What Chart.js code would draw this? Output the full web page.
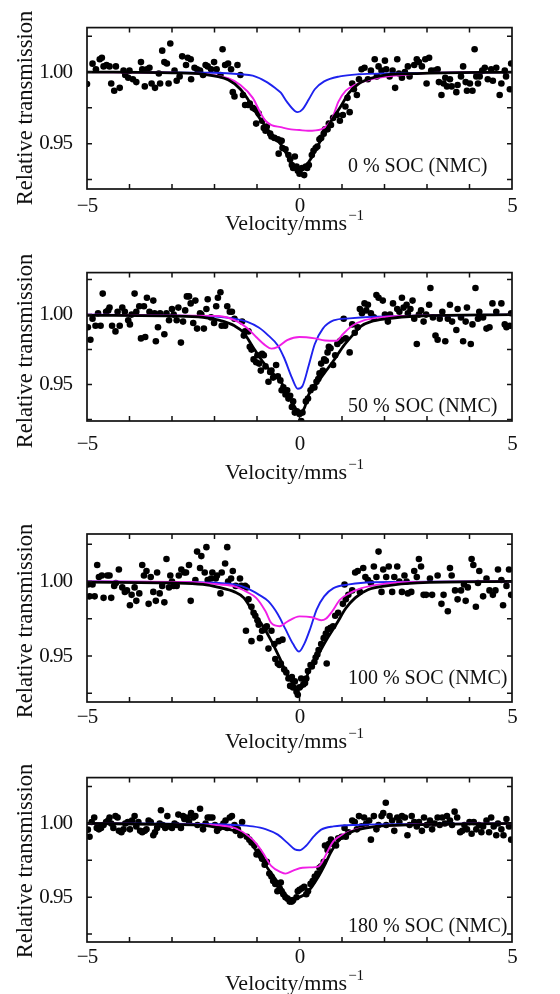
<!DOCTYPE html>
<html><head><meta charset="utf-8">
<script src="https://cdn.jsdelivr.net/npm/chart.js@4.4.1/dist/chart.umd.min.js"></script>
<style>
html,body{margin:0;padding:0;background:#fff;}
body{width:560px;height:994px;position:relative;overflow:hidden;}
canvas{position:absolute;left:0;}
</style></head><body>
<canvas id="c0"></canvas><canvas id="c1"></canvas><canvas id="c2"></canvas><canvas id="c3"></canvas>
<script>
// ---------- DATA ----------
const xTickValues = [-5, 0, 5];
const xTickLabels = ['\u22125', '0', '5'];
const yTickValues = [0.95, 1.00];
const yTickLabels = ['0.95', '1.00'];
const xTickMarks = [-4, -3, -2, -1, 0, 1, 2, 3, 4];
const yTickMarks = [0.925, 0.95, 0.975, 1.0, 1.025];
const panelLabels = ['0 % SOC (NMC)', '50 % SOC (NMC)', '100 % SOC (NMC)', '180 % SOC (NMC)'];
const xTitle = 'Velocity/mms';
const xTitleSup = '\u22121';
const yTitle = 'Relative transmission';

// measured points [velocity, transmission]
const points0 = [[-5.00,0.9917],[-4.87,1.0059],[-4.79,1.002],[-4.70,1.009],[-4.65,1.010],[-4.61,1.004],[-4.54,1.005],[-4.47,1.004],[-4.43,0.992],[-4.36,0.987],[-4.32,1.004],[-4.23,0.989],[-4.14,1.001],[-4.10,0.998],[-4.03,0.996],[-4.00,1.001],[-3.92,0.995],[-3.84,0.993],[-3.73,1.007],[-3.70,1.002],[-3.64,0.990],[-3.59,1.002],[-3.53,1.003],[-3.48,0.992],[-3.40,0.989],[-3.31,0.999],[-3.28,0.992],[-3.23,1.015],[-3.18,1.007],[-3.12,1.006],[-3.08,0.992],[-3.04,1.020],[-2.94,1.001],[-2.89,0.994],[-2.82,0.997],[-2.76,1.011],[-2.67,1.005],[-2.63,1.010],[-2.56,1.009],[-2.55,0.995],[-2.47,1.003],[-2.41,1.002],[-2.34,1.001],[-2.27,0.998],[-2.21,1.005],[-2.16,1.004],[-2.08,1.002],[-2.01,1.007],[-1.95,1.002],[-1.86,0.998],[-1.81,1.016],[-1.75,1.005],[-1.68,1.006],[-1.61,1.002],[-1.57,0.986],[-1.53,0.983],[-1.46,1.005],[-1.39,0.998],[-1.33,0.984],[-1.28,0.977],[-1.21,0.977],[-1.17,0.978],[-1.10,0.975],[-1.04,0.974],[-1.02,0.964],[-0.96,0.971],[-0.88,0.966],[-0.84,0.961],[-0.80,0.959],[-0.77,0.962],[-0.69,0.957],[-0.66,0.955],[-0.59,0.954],[-0.51,0.953],[-0.49,0.943],[-0.44,0.952],[-0.42,0.952],[-0.40,0.947],[-0.33,0.946],[-0.26,0.942],[-0.22,0.939],[-0.18,0.935],[-0.15,0.933],[-0.11,0.941],[-0.07,0.934],[-0.04,0.931],[0.00,0.929],[0.06,0.933],[0.11,0.928],[0.15,0.934],[0.18,0.933],[0.22,0.935],[0.29,0.942],[0.33,0.945],[0.38,0.947],[0.42,0.948],[0.47,0.953],[0.51,0.954],[0.57,0.957],[0.60,0.960],[0.66,0.960],[0.69,0.964],[0.74,0.963],[0.79,0.968],[0.88,0.970],[0.95,0.966],[1.02,0.970],[1.08,0.976],[1.13,0.982],[1.18,0.972],[1.24,0.992],[1.28,0.988],[1.35,0.984],[1.40,0.995],[1.46,1.002],[1.53,1.003],[1.61,0.995],[1.68,1.001],[1.77,1.009],[1.82,0.997],[1.86,1.004],[1.93,1.001],[2.01,1.008],[2.04,1.002],[2.12,0.997],[2.19,1.001],[2.25,0.989],[2.30,1.009],[2.34,0.999],[2.41,0.996],[2.48,1.000],[2.55,1.004],[2.59,0.997],[2.70,1.005],[2.76,1.009],[2.81,1.007],[2.88,1.004],[2.96,1.009],[2.99,0.992],[3.05,1.010],[3.10,1.001],[3.18,1.001],[3.25,1.002],[3.28,0.993],[3.34,0.984],[3.39,0.992],[3.43,0.996],[3.47,0.990],[3.54,0.995],[3.58,0.990],[3.69,0.986],[3.72,0.991],[3.80,0.997],[3.85,1.004],[3.91,0.993],[3.94,0.987],[4.01,0.992],[4.07,0.987],[4.12,1.016],[4.16,0.997],[4.20,0.992],[4.24,0.997],[4.30,1.001],[4.36,1.003],[4.43,0.995],[4.51,1.002],[4.55,0.994],[4.63,1.003],[4.71,0.984],[4.75,0.992],[4.83,1.001],[4.86,0.997],[4.95,0.988],[4.98,1.006]];

const points1 = [[-4.98,0.991],[-4.92,0.982],[-4.87,0.997],[-4.80,0.992],[-4.74,1.001],[-4.68,0.992],[-4.63,1.015],[-4.55,1.002],[-4.50,1.003],[-4.47,1.005],[-4.41,0.992],[-4.33,0.988],[-4.28,1.002],[-4.23,0.992],[-4.17,1.005],[-4.11,1.002],[-4.03,0.996],[-3.99,0.993],[-3.95,1.000],[-3.88,1.015],[-3.84,1.002],[-3.77,1.006],[-3.73,0.983],[-3.66,1.006],[-3.63,0.984],[-3.59,1.012],[-3.53,1.002],[-3.44,1.010],[-3.41,1.001],[-3.38,0.981],[-3.33,0.991],[-3.28,1.001],[-3.18,0.986],[-3.13,1.001],[-3.07,0.996],[-3.00,1.004],[-2.96,1.000],[-2.89,0.996],[-2.85,1.005],[-2.79,0.980],[-2.74,0.995],[-2.69,1.003],[-2.65,1.013],[-2.60,1.013],[-2.56,1.008],[-2.50,0.994],[-2.45,1.010],[-2.41,0.990],[-2.34,1.001],[-2.31,1.000],[-2.25,0.990],[-2.19,1.004],[-2.16,1.011],[-2.08,0.998],[-2.01,0.994],[-1.96,1.006],[-1.92,1.012],[-1.86,1.016],[-1.83,0.992],[-1.75,0.992],[-1.70,1.006],[-1.64,1.002],[-1.59,1.002],[-1.53,0.997],[-1.35,0.995],[-1.31,0.985],[-1.28,0.988],[-1.20,0.988],[-1.17,0.977],[-1.13,0.975],[-1.08,0.968],[-1.02,0.966],[-0.99,0.971],[-0.95,0.965],[-0.91,0.960],[-0.88,0.972],[-0.84,0.971],[-0.80,0.963],[-0.73,0.952],[-0.69,0.959],[-0.66,0.960],[-0.62,0.955],[-0.55,0.964],[-0.51,0.956],[-0.45,0.953],[-0.42,0.946],[-0.38,0.948],[-0.33,0.943],[-0.29,0.946],[-0.26,0.940],[-0.22,0.942],[-0.18,0.934],[-0.15,0.938],[-0.11,0.930],[-0.06,0.931],[0.00,0.929],[0.04,0.924],[0.07,0.930],[0.15,0.938],[0.20,0.940],[0.26,0.946],[0.31,0.948],[0.35,0.948],[0.40,0.952],[0.44,0.954],[0.47,0.958],[0.51,0.965],[0.55,0.960],[0.58,0.968],[0.62,0.967],[0.66,0.973],[0.69,0.977],[0.73,0.976],[0.79,0.964],[0.84,0.971],[0.89,0.979],[0.95,0.981],[0.99,0.982],[1.04,0.997],[1.09,0.983],[1.18,0.973],[1.24,0.993],[1.30,0.987],[1.37,0.991],[1.42,1.004],[1.47,1.001],[1.53,1.008],[1.57,1.003],[1.61,1.007],[1.68,1.001],[1.75,0.998],[1.81,1.014],[1.86,1.012],[1.96,1.010],[2.01,1.000],[2.08,0.995],[2.13,1.000],[2.20,1.008],[2.30,1.004],[2.35,1.002],[2.41,1.012],[2.45,1.005],[2.52,1.007],[2.55,1.001],[2.61,1.004],[2.66,1.010],[2.70,0.997],[2.76,0.979],[2.81,1.000],[2.86,1.003],[2.92,0.995],[2.98,1.000],[3.05,1.007],[3.08,1.019],[3.14,0.998],[3.20,0.985],[3.25,0.982],[3.30,0.997],[3.36,1.002],[3.43,0.981],[3.49,0.997],[3.54,1.007],[3.59,0.995],[3.69,0.989],[3.72,1.004],[3.80,0.998],[3.85,0.981],[3.91,0.995],[3.94,1.005],[4.03,0.979],[4.07,0.993],[4.14,1.019],[4.20,0.997],[4.23,1.002],[4.32,0.998],[4.40,0.990],[4.47,0.991],[4.54,1.008],[4.63,1.002],[4.75,1.008],[4.83,0.993],[4.87,0.991],[4.95,0.992],[4.98,1.001]];

const points2 = [[-4.98,0.998],[-4.94,0.990],[-4.87,0.998],[-4.82,0.990],[-4.76,1.011],[-4.72,1.003],[-4.65,1.004],[-4.61,0.989],[-4.52,1.004],[-4.47,1.004],[-4.43,0.989],[-4.36,0.997],[-4.32,0.999],[-4.25,1.008],[-4.17,0.996],[-4.11,0.993],[-4.06,0.994],[-3.99,0.984],[-3.95,0.991],[-3.88,0.996],[-3.84,0.987],[-3.77,0.992],[-3.70,1.011],[-3.66,1.004],[-3.60,1.007],[-3.55,0.985],[-3.50,1.003],[-3.44,0.993],[-3.38,0.987],[-3.35,1.006],[-3.29,0.992],[-3.23,0.997],[-3.18,0.986],[-3.13,1.015],[-3.07,0.996],[-3.04,1.004],[-3.00,1.000],[-2.96,0.997],[-2.89,0.997],[-2.84,1.004],[-2.78,1.008],[-2.71,1.006],[-2.67,1.006],[-2.60,1.011],[-2.56,0.987],[-2.45,1.001],[-2.41,1.020],[-2.34,1.009],[-2.31,1.017],[-2.23,1.006],[-2.19,1.023],[-2.16,1.001],[-2.08,1.002],[-2.05,1.006],[-1.97,1.002],[-1.94,1.004],[-1.86,0.992],[-1.83,1.006],[-1.75,1.012],[-1.70,1.023],[-1.68,1.000],[-1.61,1.002],[-1.57,1.007],[-1.50,0.997],[-1.40,1.002],[-1.37,0.997],[-1.28,0.997],[-1.26,0.967],[-1.24,0.996],[-1.20,0.988],[-1.13,0.983],[-1.13,0.960],[-1.08,0.979],[-1.04,0.977],[-0.99,0.974],[-0.96,0.971],[-0.93,0.962],[-0.88,0.967],[-0.82,0.968],[-0.77,0.970],[-0.73,0.955],[-0.66,0.967],[-0.59,0.958],[-0.57,0.948],[-0.51,0.945],[-0.49,0.960],[-0.47,0.944],[-0.44,0.945],[-0.40,0.961],[-0.36,0.941],[-0.31,0.939],[-0.26,0.935],[-0.22,0.930],[-0.18,0.936],[-0.15,0.929],[-0.11,0.933],[-0.07,0.926],[-0.04,0.924],[0.00,0.929],[0.04,0.935],[0.09,0.931],[0.13,0.932],[0.16,0.935],[0.20,0.940],[0.26,0.944],[0.29,0.943],[0.35,0.946],[0.38,0.949],[0.42,0.951],[0.45,0.954],[0.51,0.958],[0.57,0.962],[0.62,0.965],[0.64,0.945],[0.67,0.968],[0.73,0.969],[0.79,0.970],[0.84,0.977],[0.91,0.979],[1.02,0.985],[1.06,0.998],[1.09,0.988],[1.15,0.991],[1.24,0.994],[1.31,1.006],[1.37,1.007],[1.42,0.993],[1.50,1.009],[1.55,1.003],[1.61,1.001],[1.68,0.999],[1.75,1.010],[1.81,1.003],[1.86,1.020],[1.93,0.993],[1.97,1.008],[2.04,1.003],[2.10,1.010],[2.18,0.993],[2.23,1.003],[2.30,1.010],[2.35,1.000],[2.41,0.993],[2.47,1.004],[2.52,1.000],[2.55,0.992],[2.63,0.993],[2.70,1.007],[2.76,1.003],[2.81,1.015],[2.86,1.010],[2.92,0.991],[2.98,0.991],[3.07,1.002],[3.12,0.991],[3.25,1.004],[3.34,0.985],[3.39,0.991],[3.49,0.980],[3.54,1.009],[3.58,1.004],[3.66,0.994],[3.72,0.988],[3.80,0.994],[3.87,0.998],[3.91,0.987],[3.96,0.996],[4.05,1.015],[4.09,1.011],[4.15,0.983],[4.20,0.999],[4.23,1.007],[4.32,0.990],[4.40,1.002],[4.47,0.994],[4.55,0.991],[4.61,0.994],[4.67,1.008],[4.75,1.001],[4.79,0.984],[4.87,0.997],[4.93,1.008],[4.98,0.991]];

const points3 = [[-4.98,0.9958],[-4.94,0.991],[-4.89,1.001],[-4.83,1.004],[-4.77,0.997],[-4.72,0.996],[-4.67,0.997],[-4.61,0.999],[-4.55,1.001],[-4.50,1.002],[-4.47,1.004],[-4.43,1.000],[-4.38,0.997],[-4.33,1.005],[-4.28,1.004],[-4.25,0.995],[-4.19,0.994],[-4.14,0.996],[-4.10,1.000],[-4.04,1.001],[-3.99,0.996],[-3.94,1.002],[-3.88,1.005],[-3.84,0.998],[-3.79,1.001],[-3.75,0.995],[-3.70,0.994],[-3.64,0.995],[-3.60,0.996],[-3.55,1.002],[-3.50,1.001],[-3.44,0.992],[-3.40,0.994],[-3.35,0.997],[-3.29,1.000],[-3.26,1.009],[-3.22,0.999],[-3.16,0.997],[-3.11,1.005],[-3.06,0.998],[-3.00,0.997],[-2.94,1.000],[-2.89,0.999],[-2.85,1.006],[-2.79,0.997],[-2.74,1.005],[-2.71,1.003],[-2.65,1.004],[-2.60,1.001],[-2.55,1.007],[-2.50,1.004],[-2.45,1.005],[-2.40,0.999],[-2.34,1.010],[-2.27,0.996],[-2.21,1.000],[-2.16,1.004],[-2.11,1.004],[-2.05,1.004],[-1.99,0.999],[-1.94,0.995],[-1.89,0.997],[-1.84,0.998],[-1.79,1.000],[-1.74,1.002],[-1.70,0.997],[-1.64,1.004],[-1.59,1.005],[-1.53,0.999],[-1.50,0.995],[-1.45,0.996],[-1.39,0.992],[-1.35,1.001],[-1.24,0.991],[-1.18,0.989],[-1.13,0.987],[-1.06,0.985],[-1.01,0.979],[-0.96,0.981],[-0.91,0.978],[-0.88,0.976],[-0.82,0.972],[-0.77,0.974],[-0.71,0.966],[-0.66,0.964],[-0.62,0.961],[-0.57,0.959],[-0.52,0.954],[-0.47,0.956],[-0.44,0.960],[-0.42,0.954],[-0.38,0.952],[-0.33,0.950],[-0.28,0.949],[-0.23,0.947],[-0.18,0.947],[-0.15,0.948],[-0.07,0.950],[-0.04,0.954],[0.00,0.955],[0.06,0.956],[0.11,0.957],[0.16,0.952],[0.20,0.954],[0.26,0.959],[0.31,0.961],[0.36,0.964],[0.42,0.966],[0.47,0.970],[0.51,0.971],[0.57,0.974],[0.60,0.985],[0.66,0.982],[0.69,0.986],[0.74,0.989],[0.80,0.986],[0.86,0.985],[0.91,0.990],[0.99,0.991],[1.06,0.997],[1.09,0.991],[1.15,0.994],[1.24,1.002],[1.30,1.001],[1.35,0.996],[1.40,1.005],[1.46,0.998],[1.52,1.004],[1.57,1.000],[1.64,1.002],[1.68,0.989],[1.75,1.005],[1.81,0.996],[1.86,0.999],[1.93,1.005],[1.97,1.007],[2.03,1.014],[2.04,0.999],[2.12,1.005],[2.18,1.002],[2.23,0.995],[2.30,1.004],[2.35,1.001],[2.41,1.005],[2.48,1.004],[2.54,0.992],[2.59,0.999],[2.64,1.005],[2.70,1.001],[2.76,0.998],[2.81,1.001],[2.88,0.995],[2.93,1.004],[2.99,0.999],[3.07,1.002],[3.12,0.996],[3.18,1.000],[3.25,1.004],[3.30,0.999],[3.36,1.004],[3.42,1.000],[3.47,1.005],[3.54,1.002],[3.59,0.999],[3.65,1.008],[3.71,1.004],[3.78,0.994],[3.83,0.995],[3.88,0.999],[3.94,0.996],[4.00,1.001],[4.05,0.993],[4.10,1.001],[4.16,0.996],[4.22,0.999],[4.28,0.994],[4.32,0.998],[4.40,1.002],[4.46,0.994],[4.51,1.004],[4.57,0.998],[4.63,0.992],[4.67,1.000],[4.75,0.996],[4.80,0.992],[4.87,1.003],[4.93,0.998],[4.98,0.989]];

// fitted curves [velocity, transmission]
const total0 = [[-5,1.000],[-3,0.9995],[-2.27,0.9985],[-1.68,0.9946],[-1.39,0.988],[-1.17,0.979],[-0.99,0.970],[-0.80,0.962],[-0.58,0.954],[-0.44,0.9495],[-0.29,0.942],[-0.15,0.934],[-0.07,0.931],[0,0.930],[0.11,0.933],[0.29,0.9405],[0.51,0.953],[0.73,0.965],[0.95,0.975],[1.17,0.9856],[1.39,0.9917],[1.68,0.9957],[2.04,0.998],[2.77,0.999],[5,1.000]];
const magenta0 = [[-5,1.000],[-3,0.9995],[-2.41,0.999],[-1.68,0.9957],[-1.39,0.991],[-1.10,0.982],[-0.91,0.971],[-0.80,0.966],[-0.66,0.963],[-0.44,0.9615],[-0.2,0.960],[0,0.9595],[0.2,0.959],[0.51,0.960],[0.69,0.964],[0.80,0.970],[0.91,0.979],[1.09,0.987],[1.31,0.991],[1.68,0.995],[2.41,0.998],[3,0.9993],[5,1.000]];
const blue0 = [[-5,1.000],[-2,0.9995],[-1.39,0.9985],[-1.10,0.9975],[-0.80,0.9935],[-0.58,0.989],[-0.44,0.9856],[-0.29,0.979],[-0.11,0.9728],[-0.04,0.972],[0.07,0.974],[0.22,0.981],[0.36,0.988],[0.58,0.9935],[0.95,0.997],[1.39,0.9985],[2.04,0.999],[5,1.000]];

const total1 = [[-5,0.9995],[-3,0.999],[-2.27,0.998],[-1.90,0.996],[-1.53,0.992],[-1.31,0.987],[-1.10,0.977],[-0.88,0.967],[-0.66,0.959],[-0.44,0.952],[-0.29,0.944],[-0.11,0.934],[0,0.929],[0.11,0.933],[0.22,0.943],[0.36,0.949],[0.58,0.958],[0.80,0.967],[1.02,0.977],[1.24,0.985],[1.46,0.992],[1.68,0.995],[2.04,0.997],[2.77,0.999],[5,1.000]];
const magenta1 = [[-5,1.000],[-2.5,0.9993],[-1.90,0.999],[-1.53,0.996],[-1.24,0.9906],[-1.02,0.984],[-0.80,0.978],[-0.66,0.9757],[-0.51,0.977],[-0.29,0.9817],[0,0.984],[0.36,0.983],[0.60,0.9815],[0.87,0.9813],[1.02,0.986],[1.24,0.992],[1.53,0.996],[1.90,0.998],[2.41,0.999],[5,1.000]];
const blue1 = [[-5,1.000],[-2.5,0.999],[-1.90,0.9985],[-1.53,0.997],[-1.24,0.995],[-0.95,0.9906],[-0.73,0.985],[-0.51,0.978],[-0.36,0.969],[-0.18,0.955],[-0.04,0.947],[0.07,0.949],[0.22,0.964],[0.36,0.979],[0.55,0.990],[0.80,0.9958],[1.17,0.9973],[1.68,0.9984],[2.41,0.999],[5,1.000]];

const total2 = [[-5,0.9995],[-3,0.999],[-2.27,0.998],[-1.90,0.996],[-1.53,0.993],[-1.31,0.989],[-1.10,0.980],[-0.88,0.971],[-0.66,0.960],[-0.44,0.947],[-0.29,0.9375],[-0.11,0.930],[0,0.928],[0.11,0.931],[0.22,0.940],[0.44,0.951],[0.66,0.962],[0.88,0.972],[1.09,0.982],[1.31,0.989],[1.61,0.9944],[2.04,0.997],[2.77,0.999],[5,1.000]];
const magenta2 = [[-5,1.000],[-2.5,0.9995],[-1.90,0.998],[-1.53,0.9967],[-1.24,0.993],[-1.02,0.989],[-0.80,0.980],[-0.66,0.972],[-0.47,0.970],[-0.29,0.973],[0,0.9766],[0.29,0.976],[0.51,0.974],[0.62,0.975],[0.77,0.980],[0.95,0.9877],[1.17,0.992],[1.46,0.9955],[1.90,0.998],[2.41,0.9995],[5,1.000]];
const blue2 = [[-5,1.000],[-2.5,0.9995],[-1.90,0.999],[-1.53,0.998],[-1.24,0.9955],[-0.95,0.991],[-0.73,0.9866],[-0.51,0.978],[-0.33,0.968],[-0.15,0.958],[-0.01,0.953],[0.11,0.958],[0.26,0.969],[0.40,0.981],[0.58,0.990],[0.80,0.9955],[1.17,0.998],[1.68,0.9995],[5,1.000]];

const total3 = [[-5,1.000],[-3,0.9993],[-2.27,0.9987],[-1.90,0.997],[-1.53,0.995],[-1.31,0.992],[-1.10,0.985],[-0.88,0.975],[-0.66,0.966],[-0.44,0.957],[-0.36,0.953],[-0.22,0.949],[-0.11,0.949],[0,0.950],[0.15,0.9524],[0.29,0.957],[0.44,0.9636],[0.58,0.971],[0.73,0.980],[0.88,0.987],[1.09,0.9924],[1.39,0.9958],[1.82,0.998],[2.55,0.999],[5,1.000]];
const magenta3 = [[-5,1.000],[-2.5,0.9992],[-1.90,0.9987],[-1.53,0.997],[-1.31,0.9936],[-1.10,0.989],[-0.88,0.981],[-0.66,0.971],[-0.44,0.967],[-0.33,0.966],[-0.15,0.968],[0.07,0.970],[0.29,0.9702],[0.44,0.9707],[0.55,0.9747],[0.66,0.981],[0.80,0.988],[1.02,0.9924],[1.31,0.9958],[1.82,0.998],[2.41,0.999],[5,1.000]];
const blue3 = [[-5,1.000],[-2,0.9995],[-1.53,0.999],[-1.10,0.998],[-0.80,0.9962],[-0.51,0.9924],[-0.29,0.987],[-0.11,0.9824],[0,0.9818],[0.15,0.9847],[0.33,0.991],[0.51,0.9958],[0.80,0.998],[1.31,0.999],[5,1.000]];

const pointSets = [points0, points1, points2, points3];
const totalSets = [total0, total1, total2, total3];
const magentaSets = [magenta0, magenta1, magenta2, magenta3];
const blueSets = [blue0, blue1, blue2, blue3];
const yMins = [0.9183, 0.924, 0.9192, 0.9196];
const yMaxs = [1.0311, 1.030, 1.0318, 1.0311];
const labelAnchors = [[1.14, 0.9304], [1.14, 0.9301], [1.14, 0.9314], [1.14, 0.9265]];

// ---------- LAYOUT / STYLE ----------
const FONT = '"Liberation Serif", "Times New Roman", serif';
const panels = [
  {top: 0,   h: 245, plotTop: 22, plotBottom: 189, xTickPad: 5,  xTitleBase: 230, yTitleMid: 108},
  {top: 245, h: 245, plotTop: 18, plotBottom: 176, xTickPad: 11, xTitleBase: 234, yTitleMid: 106},
  {top: 490, h: 270, plotTop: 44, plotBottom: 212, xTickPad: 3,  xTitleBase: 258, yTitleMid: 131},
  {top: 750, h: 244, plotTop: 25, plotBottom: 192, xTickPad: 3,  xTitleBase: 240, yTitleMid: 111}
];
const PLOT_LEFT = 87, PLOT_RIGHT = 512, W = 560;

const framePlugin = {
  id: 'frame',
  beforeDraw(chart) {
    chart.ctx.letterSpacing = '-1px';
  },
  afterDraw(chart, args, opts) {
    const {ctx, chartArea: a} = chart;
    const xs = chart.scales.x, ys = chart.scales.y;
    ctx.save();
    ctx.letterSpacing = '0px';
    ctx.strokeStyle = '#111';
    ctx.lineWidth = 1.7;
    ctx.strokeRect(a.left, a.top, a.right - a.left, a.bottom - a.top);
    ctx.lineWidth = 1.5;
    const tl = 5;
    ctx.beginPath();
    xTickMarks.forEach(v => {
      const px = xs.getPixelForValue(v);
      ctx.moveTo(px, a.bottom); ctx.lineTo(px, a.bottom - tl);
      ctx.moveTo(px, a.top); ctx.lineTo(px, a.top + tl);
    });
    yTickMarks.forEach(v => {
      const py = ys.getPixelForValue(v);
      ctx.moveTo(a.left, py); ctx.lineTo(a.left + tl, py);
      ctx.moveTo(a.right, py); ctx.lineTo(a.right - tl, py);
    });
    ctx.stroke();

    ctx.fillStyle = '#111';
    // panel label
    ctx.font = '20px ' + FONT;
    ctx.textAlign = 'left'; ctx.textBaseline = 'alphabetic';
    ctx.fillText(opts.label, xs.getPixelForValue(opts.anchor[0]), ys.getPixelForValue(opts.anchor[1]));

    // x title with superscript
    ctx.font = '22px ' + FONT;
    const w1 = ctx.measureText(xTitle).width;
    ctx.font = '15px ' + FONT;
    const w2 = ctx.measureText(xTitleSup).width;
    const cx = (a.left + a.right) / 2 - 5;
    const x0 = cx - (w1 + w2 + 1) / 2;
    ctx.font = '22px ' + FONT;
    ctx.fillText(xTitle, x0, opts.xTitleBase);
    ctx.font = '15px ' + FONT;
    ctx.fillText(xTitleSup, x0 + w1 + 1, opts.xTitleBase - 10);

    // y title
    ctx.font = '22.5px ' + FONT;
    ctx.translate(32, opts.yTitleMid);
    ctx.rotate(-Math.PI / 2);
    ctx.textAlign = 'center';
    ctx.fillText(yTitle, 0, 0);
    ctx.restore();
  }
};

panels.forEach((P, i) => {
  const cv = document.getElementById('c' + i);
  cv.width = W; cv.height = P.h;
  cv.style.top = P.top + 'px';
  cv.style.width = W + 'px'; cv.style.height = P.h + 'px';
  const lineDs = (data, color, width, order) => ({
    type: 'scatter', data: data.map(d => ({x: d[0], y: d[1]})),
    showLine: true, borderColor: color, borderWidth: width, pointRadius: 0,
    cubicInterpolationMode: 'monotone', fill: false, order: order
  });
  new Chart(cv, {
    type: 'scatter',
    data: {
      datasets: [
        lineDs(totalSets[i], '#000000', 2.8, 0),
        lineDs(magentaSets[i], '#f01ee6', 1.9, 1),
        lineDs(blueSets[i], '#1e22ee', 1.9, 2),
        {type: 'scatter', data: pointSets[i].map(d => ({x: d[0], y: d[1]})),
         pointRadius: 3.3, pointBackgroundColor: '#000', pointBorderWidth: 0, showLine: false, order: 3}
      ]
    },
    options: {
      responsive: false, animation: false, devicePixelRatio: 1,
      layout: {padding: {top: P.plotTop, right: W - PLOT_RIGHT, bottom: 0, left: 0}},
      plugins: {legend: {display: false}, tooltip: {enabled: false},
        frame: {label: panelLabels[i], anchor: labelAnchors[i], xTitleBase: P.xTitleBase, yTitleMid: P.yTitleMid}},
      scales: {
        x: {type: 'linear', position: 'bottom', min: -5, max: 5,
          afterBuildTicks: s => { s.ticks = xTickValues.map(v => ({value: v})); },
          afterFit: s => { s.height = P.h - P.plotBottom; },
          ticks: {callback: (v, idx) => xTickLabels[idx], font: {family: FONT, size: 21}, color: '#111', padding: P.xTickPad, maxRotation: 0, autoSkip: false},
          grid: {display: false, drawTicks: false}, border: {display: false}},
        y: {type: 'linear', position: 'left', min: yMins[i], max: yMaxs[i],
          afterBuildTicks: s => { s.ticks = yTickValues.map(v => ({value: v})); },
          afterFit: s => { s.width = PLOT_LEFT; },
          ticks: {callback: (v, idx) => yTickLabels[idx], font: {family: FONT, size: 21}, color: '#111', padding: 15, autoSkip: false},
          grid: {display: false, drawTicks: false}, border: {display: false}}
      }
    },
    plugins: [framePlugin]
  });
});
</script>
</body></html>
